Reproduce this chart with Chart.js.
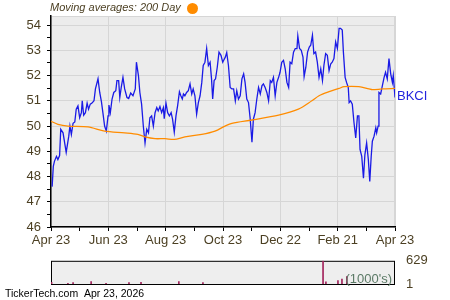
<!DOCTYPE html>
<html>
<head>
<meta charset="utf-8">
<script src="https://cdn.jsdelivr.net/npm/chart.js@4/dist/chart.umd.min.js"></script>
<style>
  body { margin: 0; background: #fff; }
  #wrap { position: relative; width: 450px; height: 300px; font-family: "Liberation Sans", Arial, sans-serif; }
  canvas { position: absolute; left: 0; }
  .txt { position: absolute; white-space: nowrap; }
</style>
</head>
<body>
<div id="wrap">
  <canvas id="chart" width="450" height="250" style="top:0"></canvas>
  <canvas id="vol" width="450" height="50" style="top:250px"></canvas>
  <div class="txt" style="left:50px;top:1px;font-size:11px;font-style:italic;color:#4b3f22">Moving averages: 200 Day</div>
  <div class="txt" style="left:187px;top:3px;width:11px;height:11px;border-radius:50%;background:#ff8c00"></div>
  <div class="txt" style="left:397px;top:88px;font-size:13px;color:#2323dd">BKCI</div>
  <div class="txt" style="left:5px;top:287px;font-size:10.5px;color:#000">TickerTech.com&nbsp;&nbsp;Apr 23, 2026</div>
</div>
<script>
// x values are months since Apr 23
const xLabels = ['Apr 23', 'Jun 23', 'Aug 23', 'Oct 23', 'Dec 22', 'Feb 21', 'Apr 23']

const priceT = [0.04, 0.08, 0.12, 0.19, 0.24, 0.30, 0.34, 0.42, 0.53, 0.62, 0.66, 0.71, 0.77, 0.83, 0.88, 0.94, 1.00, 1.06, 1.09, 1.14,
  1.20, 1.26, 1.31, 1.37, 1.43, 1.50, 1.55, 1.64, 1.70, 1.76, 1.81, 1.87, 1.93, 1.99, 2.02, 2.07, 2.13, 2.19, 2.26, 2.30,
  2.36, 2.40, 2.45, 2.51, 2.57, 2.65, 2.71, 2.78, 2.86, 2.94, 2.98,
  3.05, 3.10, 3.16, 3.22, 3.28, 3.34, 3.40, 3.45, 3.51, 3.57, 3.63, 3.69, 3.74, 3.80, 3.86, 3.92, 3.95, 4.01, 4.07,
  4.13, 4.19, 4.24, 4.30, 4.36, 4.42, 4.48, 4.53, 4.58, 4.62, 4.67, 4.73, 4.79, 4.85, 4.91, 4.96, 5.02, 5.08, 5.14,
  5.20, 5.26, 5.31, 5.37, 5.43, 5.49, 5.55, 5.60, 5.64, 5.69, 5.74, 5.80, 5.86, 5.93, 5.99,
  6.02, 6.08, 6.13, 6.19, 6.25, 6.31, 6.37, 6.43, 6.48, 6.54, 6.60, 6.66, 6.72, 6.77, 6.83, 6.89, 6.95, 7.01, 7.06,
  7.12, 7.18, 7.24, 7.30, 7.36, 7.41, 7.47, 7.53, 7.59, 7.65, 7.70, 7.76, 7.82, 7.88, 7.94, 7.99, 8.05, 8.11, 8.17,
  8.23, 8.29, 8.34, 8.40, 8.46, 8.52, 8.58, 8.61, 8.67, 8.73, 8.79, 8.83, 8.89, 8.95, 9.01,
  9.06, 9.12, 9.17, 9.23, 9.29, 9.35, 9.41, 9.47, 9.52, 9.58, 9.64, 9.70, 9.76, 9.81, 9.87, 9.93, 9.99, 10.05, 10.10,
  10.16, 10.20, 10.26, 10.31, 10.37, 10.40, 10.45, 10.51, 10.57, 10.63, 10.69, 10.74, 10.78, 10.84, 10.90, 10.95, 11.01,
  11.07, 11.12, 11.17, 11.21, 11.27, 11.33, 11.36, 11.41, 11.44, 11.50, 11.56, 11.62, 11.67, 11.73, 11.79, 11.85, 11.91,
  11.94, 12.0]
const priceV = [47.60, 48.40, 48.60, 48.80, 48.67, 48.83, 49.87, 49.73, 48.96, 49.60, 50.00, 49.67, 50.11, 50.16, 50.67, 50.80, 50.33, 50.53, 51.00, 50.43,
  50.53, 50.91, 50.67, 50.87, 50.91, 51.00, 51.47, 51.87, 51.33, 50.96, 50.53, 50.00, 49.80, 50.40, 50.83, 50.53, 51.07, 51.33, 51.40, 51.80,
  51.80, 51.13, 51.53, 51.93, 51.47, 51.13, 51.09, 51.31, 51.20, 51.47, 52.53,
  52.00, 51.33, 50.87, 50.00, 49.33, 49.87, 49.73, 50.33, 50.40, 50.00, 50.53, 50.73, 50.60, 50.77, 50.53, 50.73, 50.29, 50.91, 50.53,
  50.40, 50.53, 50.27, 49.76, 50.40, 50.83, 51.36, 51.20, 51.07, 51.27, 51.20, 51.33, 51.40, 51.67, 51.27, 51.47, 51.20, 50.47, 50.93,
  51.20, 51.73, 52.40, 52.53, 53.07, 52.40, 52.53, 51.87, 51.07, 51.80, 51.87, 52.33, 52.93, 52.80, 52.53,
  52.60, 52.73, 52.91, 52.40, 51.53, 51.47, 51.47, 51.00, 51.40, 51.07, 51.20, 51.87, 52.07, 51.73, 51.07, 50.93, 50.27, 49.36, 50.27,
  50.53, 51.07, 51.53, 51.27, 51.60, 51.67, 51.53, 51.33, 51.00, 51.80, 51.73, 51.93, 51.20, 51.73, 51.93, 52.13, 52.53, 52.60, 52.27,
  51.73, 51.53, 52.53, 52.47, 52.93, 53.07, 53.07, 53.57, 53.07, 53.00, 52.73, 51.96, 52.33, 52.93, 53.13,
  53.20, 53.60, 52.87, 52.93, 52.53, 51.93, 52.27, 51.80, 52.40, 52.87, 52.80, 52.20, 52.47, 52.53, 52.67, 53.33, 53.07, 53.87, 53.87,
  53.80, 52.93, 51.93, 51.73, 51.53, 50.93, 51.00, 50.87, 50.13, 49.53, 50.40, 50.40, 49.07, 48.80, 47.93, 48.87, 49.33,
  48.67, 47.80, 48.80, 49.40, 49.60, 49.93, 49.73, 50.00, 51.33, 51.27, 51.60, 51.93, 52.13, 51.87, 52.67, 52.07, 51.73,
  52.00, 51.13]

const maT = [0, 0.24, 0.59, 1.29, 1.87, 2.57, 3.03, 3.28, 3.63, 3.98, 4.30, 4.67, 5.26, 5.72, 6.07, 6.31, 7.01, 7.94, 8.63, 9.10,
  9.35, 9.70, 10.05, 10.22, 10.74, 11.09, 11.21, 11.56, 12.0]
const maV = [50.19, 50.07, 50.00, 49.97, 49.80, 49.73, 49.67, 49.57, 49.50, 49.50, 49.47, 49.57, 49.67, 49.80, 50.00, 50.11, 50.24, 50.43, 50.67, 51.00,
  51.20, 51.36, 51.49, 51.56, 51.56, 51.47, 51.44, 51.47, 51.49]

const volT = [0.02, 0.59, 0.77, 1.40, 1.92, 2.72, 3.14, 4.46, 5.30, 9.49, 9.59, 10.01, 10.15, 10.32]
const volV = [45, 20, 40, 65, 20, 40, 45, 65, 40, 629, 60, 90, 135, 200]
const volTicks = [1, 629]

const labelColor = '#4b3f22'
const pts = (t, v) => t.map((x, i) => ({ x: x, y: v[i] }))

const plotBg = {
  id: 'plotBg',
  beforeDraw(chart, args, opts) {
    const a = chart.chartArea, ctx = chart.ctx
    ctx.save()
    ctx.fillStyle = opts.fill
    ctx.fillRect(a.left, a.top, a.right - a.left, a.bottom - a.top)
    ctx.strokeStyle = opts.border
    ctx.lineWidth = 1
    ctx.strokeRect(a.left + 0.5, a.top + 0.5, a.right - a.left - 1, a.bottom - a.top)
    ctx.restore()
  }
}

new Chart(document.getElementById('chart'), {
  type: 'line',
  data: {
    datasets: [
      { data: pts(maT, maV), borderColor: '#ff8c00', borderWidth: 1.3, pointRadius: 0, tension: 0.3 },
      { data: pts(priceT, priceV), borderColor: '#1a1ae6', borderWidth: 1.3, pointRadius: 0, tension: 0 }
    ]
  },
  options: {
    responsive: false,
    animation: false,
    layout: { padding: { top: 16, right: 55, left: 0, bottom: 0 } },
    plugins: { legend: { display: false }, tooltip: { enabled: false }, plotBg: { fill: '#ececec', border: '#d6d6d6' } },
    scales: {
      x: {
        type: 'linear', min: 0, max: 12,
        afterBuildTicks: s => { s.ticks = Array.from({ length: 13 }, (_, i) => ({ value: i })) },
        afterFit: s => { s.height = 23 },
        border: { color: '#000', width: 1.5 },
        grid: { color: c => (c.tick && c.tick.value % 2 === 0 && c.tick.value > 0) ? '#d6d6d6' : 'transparent', tickColor: '#000', tickLength: 4 },
        ticks: {
          maxRotation: 0, autoSkip: false, padding: 2, color: labelColor,
          font: { family: 'Liberation Sans', size: 13 },
          callback: v => v % 2 === 0 ? xLabels[v / 2] : ''
        }
      },
      y: {
        min: 46, max: 54.36,
        afterBuildTicks: s => { s.ticks = Array.from({ length: 17 }, (_, i) => ({ value: 46 + i * 0.5 })) },
        afterFit: s => { s.width = 51 },
        border: { color: '#000', width: 1.5 },
        grid: { color: c => (c.tick && Number.isInteger(c.tick.value) && c.tick.value > 46) ? '#d6d6d6' : 'transparent', tickColor: '#000', tickLength: 4 },
        ticks: {
          autoSkip: false, padding: 6, color: labelColor,
          font: { family: 'Liberation Sans', size: 13 },
          callback: v => Number.isInteger(v) ? v : ''
        }
      }
    }
  },
  plugins: [plotBg]
})

new Chart(document.getElementById('vol'), {
  type: 'bar',
  data: {
    datasets: [{ data: pts(volT, volV), backgroundColor: '#a3245c', barThickness: 1, categoryPercentage: 1, barPercentage: 1 }]
  },
  options: {
    responsive: false,
    animation: false,
    layout: { padding: { top: 6, left: 51, right: 0, bottom: 16 } },
    plugins: { legend: { display: false }, tooltip: { enabled: false }, plotBg: { fill: '#eeeeee', border: '#000' } },
    scales: {
      x: { type: 'linear', min: 0, max: 12, display: false, offset: false },
      y: {
        position: 'right', min: 0, max: 629,
        afterBuildTicks: s => { s.ticks = volTicks.map(v => ({ value: v })) },
        afterFit: s => { s.width = 55 },
        border: { display: false },
        grid: { display: false },
        ticks: { padding: 3, color: labelColor, font: { family: 'Liberation Sans', size: 13 } }
      }
    }
  },
  plugins: [plotBg, {
    id: 'unitLabel',
    afterDraw(chart) {
      const ctx = chart.ctx, a = chart.chartArea
      ctx.save()
      ctx.fillStyle = '#5b7a66'
      ctx.font = '13px "Liberation Sans"'
      ctx.textAlign = 'right'
      ctx.textBaseline = 'bottom'
      ctx.fillText("(1000's)", a.right - 3, a.bottom + 2)
      ctx.restore()
    }
  }]
})
</script>
</body>
</html>
